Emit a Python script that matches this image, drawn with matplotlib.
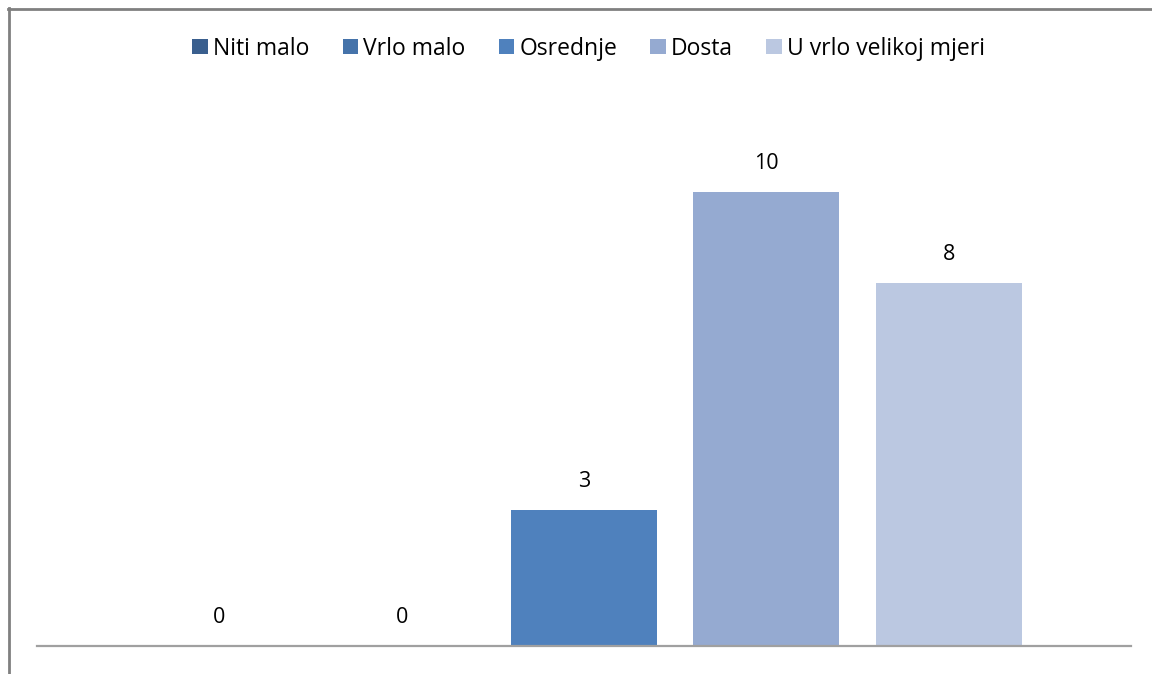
import numpy as np
import matplotlib
matplotlib.use("Agg")
import matplotlib.pyplot as plt
from matplotlib.lines import Line2D

plt.rcParams['font.family'] = ['Open Sans', 'DejaVu Sans']

# answer categories and counts
categories = ["Niti malo", "Vrlo malo", "Osrednje", "Dosta", "U vrlo velikoj mjeri"]
counts = [0, 0, 3, 10, 8]
colors = ["#3A5F8E", "#4573AA", "#4F81BD", "#95AAD1", "#BBC8E1"]

fig = plt.figure(figsize=(11.52, 6.74), dpi=100)
ax = fig.add_axes([0.0321, 0.0415, 0.9497, 0.8086])

x = np.arange(len(categories))
bars = ax.bar(x, counts, width=0.8, color=colors, label=categories, zorder=2)

for xi, v in zip(x, counts):
    ax.text(xi, v + 0.4, str(v), ha='center', va='bottom', fontsize=15.5, color='black')

ax.set_xlim(-1, 5)
ax.set_ylim(0, 12)
ax.set_xticks([])
ax.set_yticks([])
for s in ['top', 'right', 'left']:
    ax.spines[s].set_visible(False)
ax.spines['bottom'].set_color('#a0a0a0')
ax.spines['bottom'].set_linewidth(1.6)

leg = fig.legend(bars, categories, loc='center', bbox_to_anchor=(0.511, 0.928),
                 ncol=5, frameon=False, fontsize=16.5, handlelength=0.68,
                 handleheight=0.68, handletextpad=0.22, columnspacing=1.45)

# outer chart frame (top and left edges visible)
fig.add_artist(Line2D([8 / 1152, 1.0], [1 - 8.5 / 674, 1 - 8.5 / 674],
                      transform=fig.transFigure, color='#808080', lw=2))
fig.add_artist(Line2D([8.5 / 1152, 8.5 / 1152], [0.0, 1 - 8 / 674],
                      transform=fig.transFigure, color='#808080', lw=2))

fig.savefig("out.png", dpi=100)
